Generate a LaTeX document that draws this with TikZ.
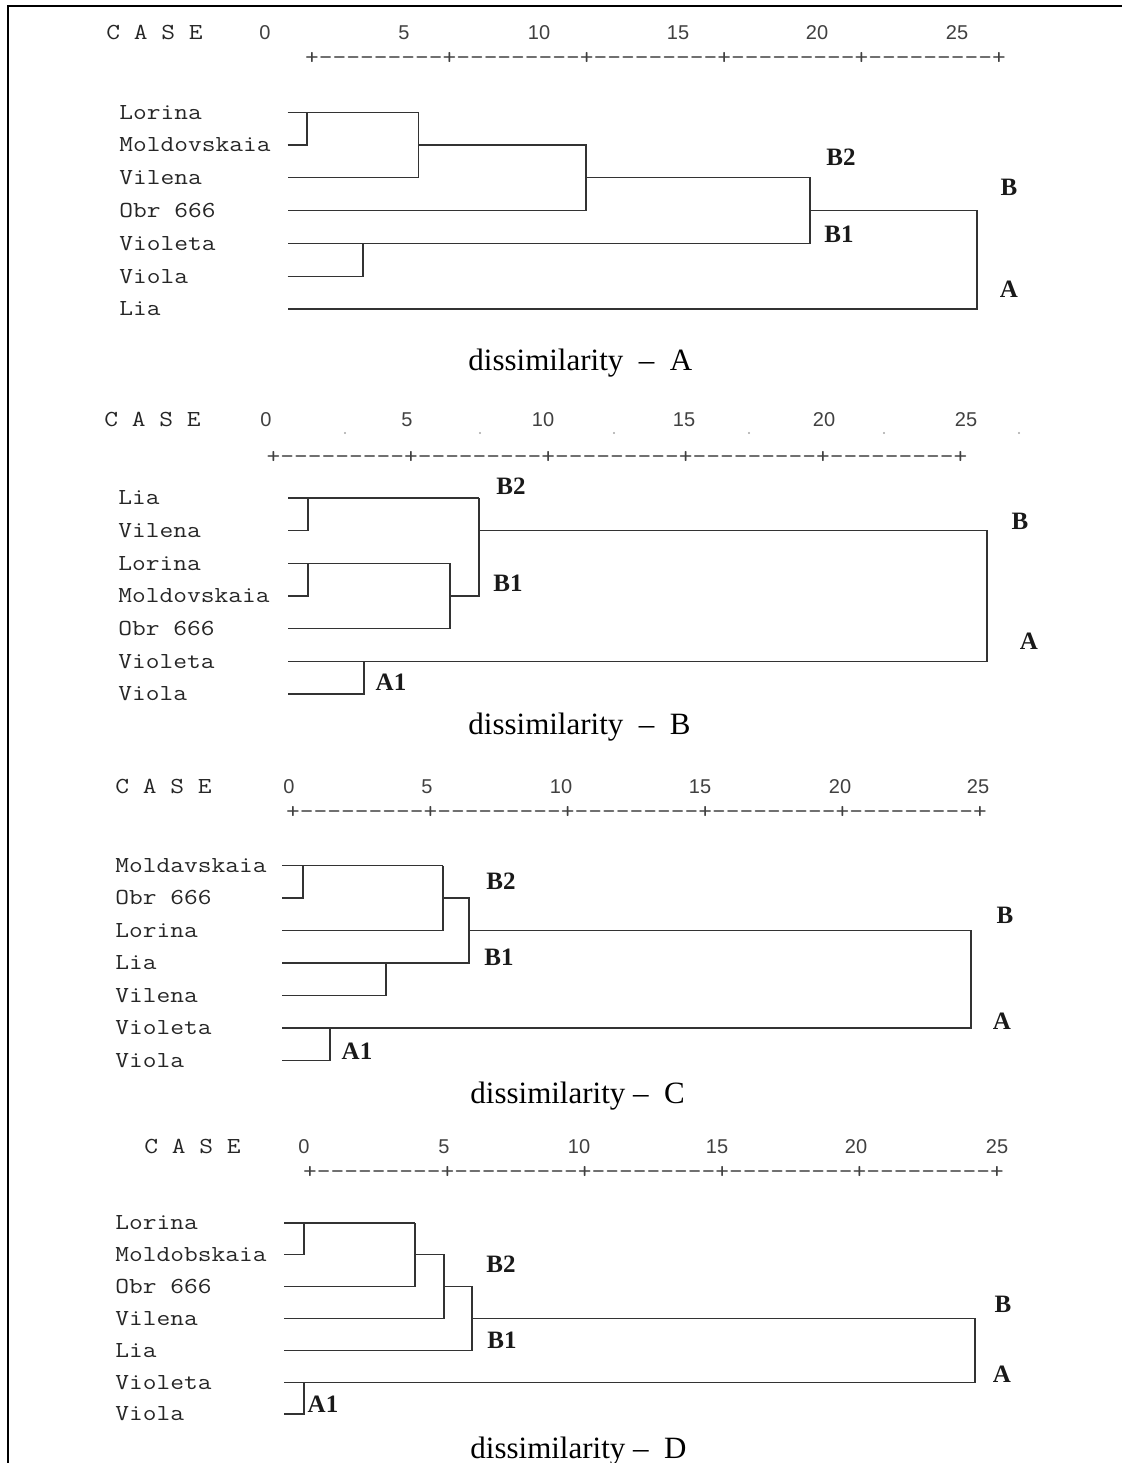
\documentclass[tikz,border=0pt]{standalone}
\usepackage{fontspec}
\newfontfamily\monof[FakeStretch=1.165]{Latin Modern Mono}
\newfontfamily\numf{Liberation Sans}
\newfontfamily\serf{Liberation Serif}
\newcommand\myhy{-\kern0pt}
\newcommand\myseg{+\kern0pt\myhy\myhy\myhy\myhy\myhy\myhy\myhy\myhy\myhy}
\newcommand\myaxis{\myseg\myseg\myseg\myseg\myseg+}
\begin{document}
\begin{tikzpicture}[x=0.5pt,y=-0.5pt,
  tree/.style={draw=black!80, line width=0.6pt},
  lbl/.style={font=\monof\fontsize{11.45}{13}\selectfont, anchor=base west, inner sep=0pt, yshift=-3.4pt, text=black!85},
  axl/.style={font=\monof\fontsize{11.45}{13}\selectfont, anchor=base, inner sep=0pt, yshift=-3.0pt, text=black!75},
  num/.style={font=\numf\fontsize{10}{12}\selectfont, anchor=base, inner sep=0pt, yshift=-3.35pt, text=black!75},
  cll/.style={font=\serf\bfseries\fontsize{12.5}{14}\selectfont, anchor=base, inner sep=0pt, yshift=-3.65pt, text=black!90},
  capt/.style={font=\serf\fontsize{15.5}{18}\selectfont, anchor=base west, inner sep=0pt},
  gdot/.style={fill=black!35, circle, inner sep=0pt, minimum size=1.2pt}]
\useasboundingbox (0,0) rectangle (1122,1463);
% frame
\draw[line width=1pt] (8,1470) -- (8,6) -- (1130,6);

% ================= Panel A =================
\node[lbl] (acase) at (106,33) {C A S E};
\foreach \v/\x in {0/265,5/404,10/539,15/678,20/817,25/957}
  \node[num] (an\v) at (\x,33) {\v};
\node[axl] (aaxis) at (655.5,58) {\myaxis};
\foreach \i/\y/\t in {1/112.5/Lorina,2/145/Moldovskaia,3/177.5/Vilena,4/210.5/Obr 666,5/243.5/Violeta,6/276.5/Viola,7/309/Lia}{
  \node[lbl] (aL\i) at (119,\y) {\t};
  \coordinate (a\i) at (287.5,\y);
}
\coordinate (aX1) at (307,0);
\coordinate (aX2) at (418.5,0);
\coordinate (aX3) at (586,0);
\coordinate (aX4) at (810,0);
\coordinate (aV) at (363,0);
\coordinate (aR) at (977,0);
\draw[tree] (a1) -- (a1 -| aX2);
\draw[tree] (a2) -- (a2 -| aX1) -- (a1 -| aX1);
\draw[tree] (a1 -| aX2) -- (a3 -| aX2) -- (a3);
\draw[tree] (a2 -| aX2) -- (a2 -| aX3) -- (a4 -| aX3) -- (a4);
\draw[tree] (a3 -| aX3) -- (a3 -| aX4) -- (a5 -| aX4) -- (a5);
\draw[tree] (a6) -- (a6 -| aV) -- (a5 -| aV);
\draw[tree] (a4 -| aX4) -- (a4 -| aR) -- (a7 -| aR) -- (a7);
\node[cll] (aB2) at (841,158) {B2};
\node[cll] (aB1) at (839,235) {B1};
\node[cll] (aB) at (1009,188) {B};
\node[cll] (aA) at (1009,290) {A};
\node[capt] (acap) at (468,370) {dissimilarity\ \ –\ \ A};

% ================= Panel B =================
\node[lbl] (bcase) at (104,420) {C A S E};
\foreach \v/\x in {0/266,5/407,10/543,15/684,20/824,25/966}
  \node[num] (bn\v) at (\x,420) {\v};
\foreach \x in {345,480,614,749,884,1019}
  \node[gdot] at (\x,433) {};
\node[axl] (baxis) at (617,457) {\myaxis};
\foreach \i/\y/\t in {1/498/Lia,2/530.7/Vilena,3/563.3/Lorina,4/596/Moldovskaia,5/628.7/Obr 666,6/661.3/Violeta,7/694/Viola}{
  \node[lbl] (bL\i) at (118,\y) {\t};
  \coordinate (b\i) at (288,\y);
}
\coordinate (bX1) at (308,0);
\coordinate (bX3) at (450,0);
\coordinate (bX4) at (479,0);
\coordinate (bV) at (364,0);
\coordinate (bR) at (987,0);
\draw[tree] (b1) -- (b1 -| bX4);
\draw[tree] (b2) -- (b2 -| bX1) -- (b1 -| bX1);
\draw[tree] (b3) -- (b3 -| bX3);
\draw[tree] (b4) -- (b4 -| bX1) -- (b3 -| bX1);
\draw[tree] (b3 -| bX3) -- (b5 -| bX3) -- (b5);
\draw[tree] (b4 -| bX3) -- (b4 -| bX4) -- (b1 -| bX4);
\draw[tree] (b2 -| bX4) -- (b2 -| bR) -- (b6 -| bR) -- (b6);
\draw[tree] (b7) -- (b7 -| bV) -- (b6 -| bV);
\node[cll] (bB2) at (511,487) {B2};
\node[cll] (bB1) at (508,584) {B1};
\node[cll] (bA1) at (391,683) {A1};
\node[cll] (bB) at (1020,522) {B};
\node[cll] (bA) at (1029,642) {A};
\node[capt] (bcap) at (468,734) {dissimilarity\ \ –\ \ B};

% ================= Panel C =================
\node[lbl] (ccase) at (115,787) {C A S E};
\foreach \v/\x in {0/289,5/427,10/561,15/700,20/840,25/978}
  \node[num] (cn\v) at (\x,787) {\v};
\node[axl] (caxis) at (636.5,812) {\myaxis};
\foreach \i/\y/\t in {1/865.5/Moldavskaia,2/898/Obr 666,3/930.5/Lorina,4/963/Lia,5/995.5/Vilena,6/1028/Violeta,7/1060.5/Viola}{
  \node[lbl] (cL\i) at (115,\y) {\t};
  \coordinate (c\i) at (282,\y);
}
\coordinate (cX1) at (303,0);
\coordinate (cX2) at (443,0);
\coordinate (cX3) at (469,0);
\coordinate (cXL) at (386,0);
\coordinate (cV) at (330,0);
\coordinate (cR) at (971,0);
\draw[tree] (c1) -- (c1 -| cX2);
\draw[tree] (c2) -- (c2 -| cX1) -- (c1 -| cX1);
\draw[tree] (c1 -| cX2) -- (c3 -| cX2) -- (c3);
\draw[tree] (c2 -| cX2) -- (c2 -| cX3) -- (c4 -| cX3) -- (c4);
\draw[tree] (c5) -- (c5 -| cXL) -- (c4 -| cXL);
\draw[tree] (c3 -| cX3) -- (c3 -| cR) -- (c6 -| cR) -- (c6);
\draw[tree] (c7) -- (c7 -| cV) -- (c6 -| cV);
\node[cll] (cB2) at (501,882) {B2};
\node[cll] (cB1) at (499,958) {B1};
\node[cll] (cA1) at (357,1052) {A1};
\node[cll] (cB) at (1005,916) {B};
\node[cll] (cA) at (1002,1022) {A};
\node[capt] (ccap) at (470,1103) {dissimilarity –\ \ C};

% ================= Panel D =================
\node[lbl] (dcase) at (144,1147) {C A S E};
\foreach \v/\x in {0/304,5/444,10/579,15/717,20/856,25/997}
  \node[num] (dn\v) at (\x,1147) {\v};
\node[axl] (daxis) at (653.5,1172) {\myaxis};
\foreach \i/\y/\t in {1/1223/Lorina,2/1254.8/Moldobskaia,3/1286.7/Obr 666,4/1318.5/Vilena,5/1350.3/Lia,6/1382.2/Violeta,7/1414/Viola}{
  \node[lbl] (dL\i) at (115,\y) {\t};
  \coordinate (d\i) at (284,\y);
}
\coordinate (dX1) at (304,0);
\coordinate (dX2) at (415,0);
\coordinate (dX3) at (444,0);
\coordinate (dX4) at (472,0);
\coordinate (dV) at (304,0);
\coordinate (dR) at (975,0);
\draw[tree] (d1) -- (d1 -| dX2);
\draw[tree] (d2) -- (d2 -| dX1) -- (d1 -| dX1);
\draw[tree] (d1 -| dX2) -- (d3 -| dX2) -- (d3);
\draw[tree] (d2 -| dX2) -- (d2 -| dX3) -- (d4 -| dX3) -- (d4);
\draw[tree] (d3 -| dX3) -- (d3 -| dX4) -- (d5 -| dX4) -- (d5);
\draw[tree] (d4 -| dX4) -- (d4 -| dR) -- (d6 -| dR) -- (d6);
\draw[tree] (d7) -- (d7 -| dV) -- (d6 -| dV);
\node[cll] (dB2) at (501,1265) {B2};
\node[cll] (dB1) at (502,1341) {B1};
\node[cll] (dA1) at (323,1405) {A1};
\node[cll] (dB) at (1003,1305) {B};
\node[cll] (dA) at (1002,1375) {A};
\node[capt] (dcap) at (470,1458) {dissimilarity –\ \ D};
\end{tikzpicture}
\end{document}
